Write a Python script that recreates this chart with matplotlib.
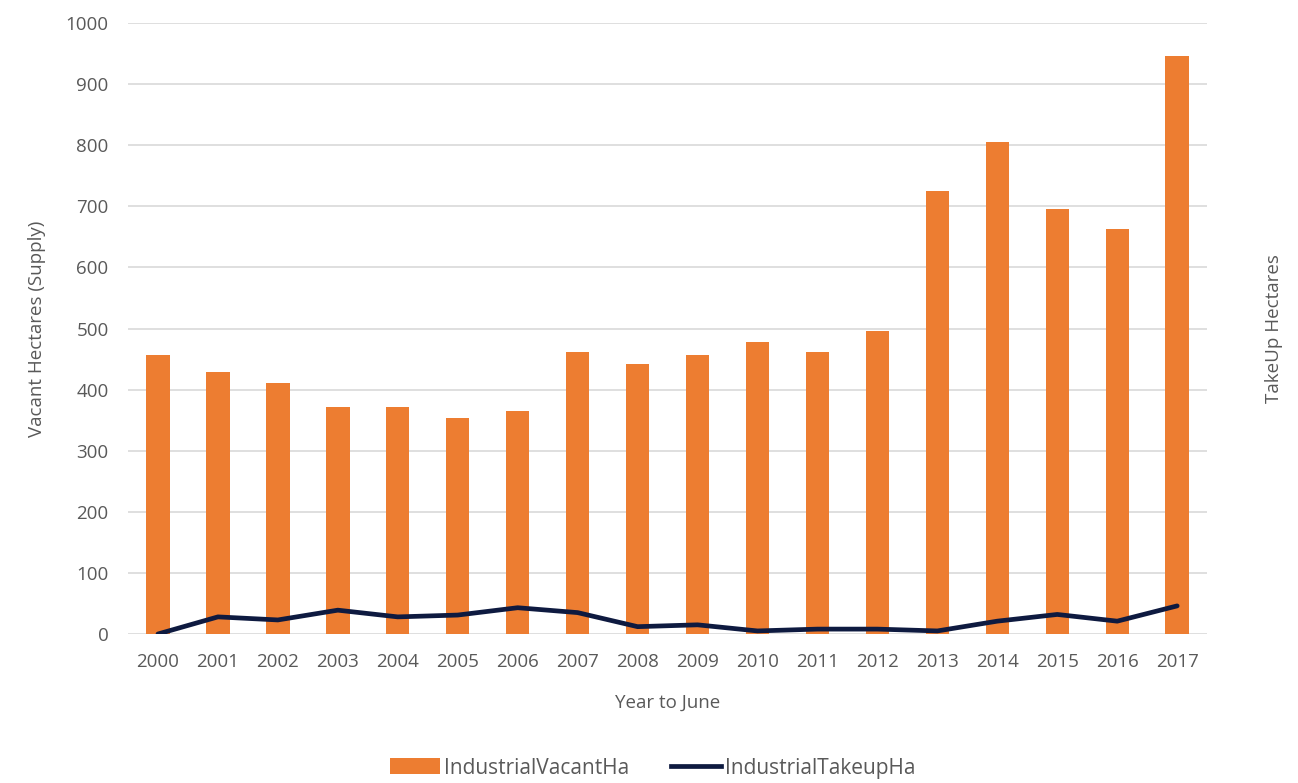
import matplotlib
matplotlib.use("Agg")
import matplotlib.pyplot as plt
from matplotlib.lines import Line2D
from matplotlib.patches import Patch

years = ["2000", "2001", "2002", "2003", "2004", "2005", "2006", "2007", "2008",
         "2009", "2010", "2011", "2012", "2013", "2014", "2015", "2016", "2017"]
vacant_ha = [456, 429, 411, 372, 372, 354, 365, 462, 442,
             456, 478, 462, 496, 725, 805, 696, 663, 946]
takeup_ha = [0, 28, 23, 39, 28, 31, 43, 35, 12,
             15, 5, 8, 8, 5, 21, 32, 21, 46]
y_ticks = [0, 100, 200, 300, 400, 500, 600, 700, 800, 900, 1000]

plt.rcParams["font.family"] = ["Open Sans", "DejaVu Sans"]
TEXT = "#595959"
ORANGE = "#ED7D31"
NAVY = "#0E1A40"

fig = plt.figure(figsize=(12.98, 7.83), dpi=100)
ax = fig.add_axes([0.0986, 0.1903, 0.8314, 0.7803])

x = list(range(len(years)))
ax.bar(x, vacant_ha, width=0.39, color=ORANGE, zorder=2)

ax.set_xlim(-0.5, len(years) - 0.5)
ax.set_ylim(0, 1000)
ax.set_yticks(y_ticks)
ax.set_xticks(x)
ax.set_xticklabels(years)
ax.grid(axis="y", color="#d9d9d9", linewidth=1.2, zorder=0)
for s in ax.spines.values():
    s.set_visible(False)
ax.tick_params(axis="both", length=0, labelsize=13.5, labelcolor=TEXT)
ax.tick_params(axis="y", pad=14)
ax.tick_params(axis="x", pad=14)
ax.set_xlabel("Year to June", fontsize=13.5, color=TEXT, labelpad=16)
ax.set_ylabel("Vacant Hectares (Supply)", fontsize=13.5, color=TEXT, labelpad=14)

ax2 = ax.twinx()
ax2.set_ylim(0, 1000)
ax2.plot(x, takeup_ha, color=NAVY, linewidth=3.4, solid_joinstyle="round",
         solid_capstyle="round", zorder=3)
ax2.set_yticks([])
for s in ax2.spines.values():
    s.set_visible(False)
ax2.set_ylabel("TakeUp Hectares", fontsize=13.5, color=TEXT, labelpad=42)

handles = [Patch(facecolor=ORANGE, edgecolor="none"),
           Line2D([0], [0], color=NAVY, linewidth=3.4)]
fig.legend(handles, ["IndustrialVacantHa", "IndustrialTakeupHa"],
           loc="center", bbox_to_anchor=(0.503, 0.019), ncol=2, frameon=False,
           fontsize=15, labelcolor=TEXT, handlelength=2.4, handleheight=0.8,
           handletextpad=0.2, columnspacing=2.0)

fig.savefig("out.png", dpi=100, facecolor="white")
